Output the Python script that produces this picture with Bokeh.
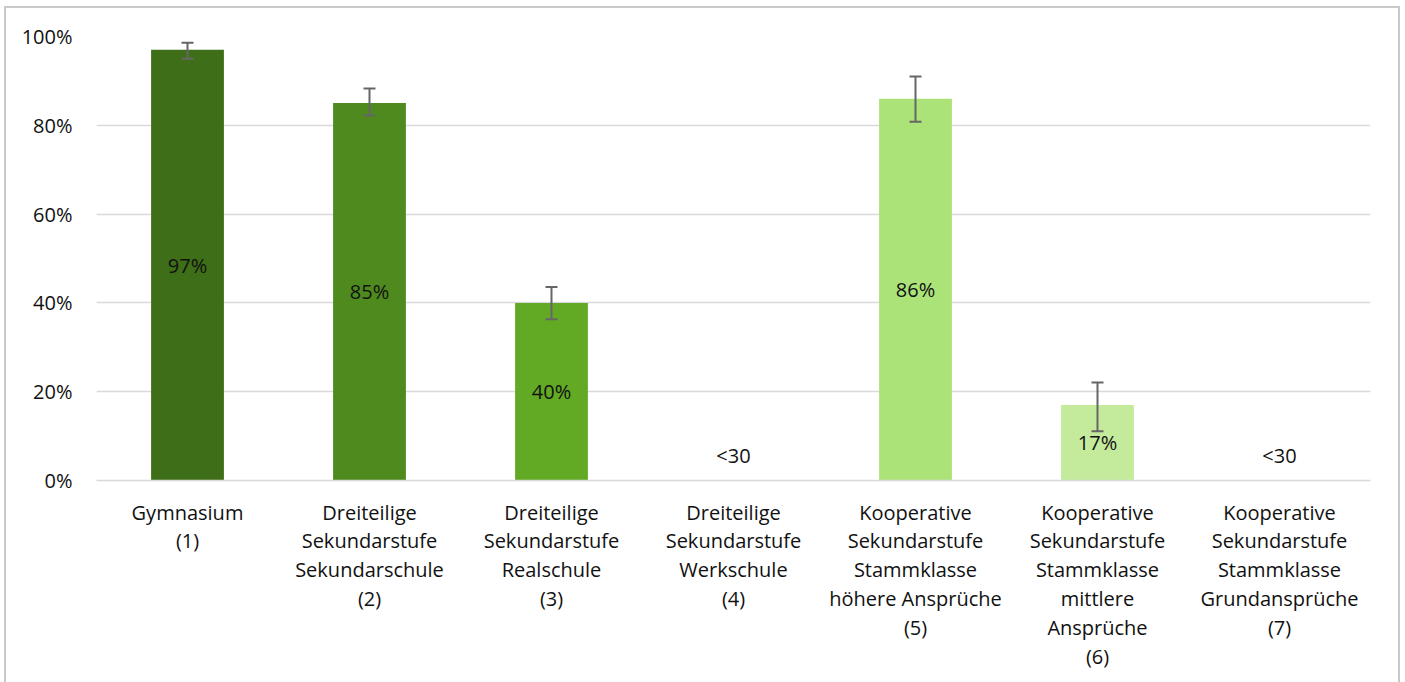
from bokeh.plotting import figure
from bokeh.models import ColumnDataSource, FactorRange, Range1d, Whisker, FixedTicker, CustomJSTickFormatter
from bokeh.embed import file_html
from bokeh.resources import INLINE
from bokeh.core.properties import value

categories = [
    "Gymnasium\n(1)",
    "Dreiteilige\nSekundarstufe\nSekundarschule\n(2)",
    "Dreiteilige\nSekundarstufe\nRealschule\n(3)",
    "Dreiteilige\nSekundarstufe\nWerkschule\n(4)",
    "Kooperative\nSekundarstufe\nStammklasse\nhöhere Ansprüche\n(5)",
    "Kooperative\nSekundarstufe\nStammklasse\nmittlere\nAnsprüche\n(6)",
    "Kooperative\nSekundarstufe\nStammklasse\nGrundansprüche\n(7)",
]
values = [97, 85, 40, 0, 86, 17, 0]
err_low = [95.0, 82.2, 36.3, None, 80.8, 11.1, None]
err_high = [98.6, 88.3, 43.6, None, 91.0, 22.1, None]
labels = ["97%", "85%", "40%", "<30", "86%", "17%", "<30"]
colors = ["#3f6e19", "#4e8a1e", "#62aa24", "#ffffff", "#abe378", "#c4eb9c", "#ffffff"]
yticks = [0, 20, 40, 60, 80, 100]

FONT = "Open Sans"
FS = "20px"

p = figure(x_range=FactorRange(*categories, range_padding=0),
           y_range=Range1d(0, 100),
           width=1396, height=676,
           output_backend="svg", toolbar_location=None,
           min_border_left=90, min_border_right=32,
           min_border_top=28, min_border_bottom=204)
p.margin = (6, 0, 0, 4)
p.styles = {"border-top": "2px solid #c9c9c9",
            "border-left": "2px solid #c9c9c9",
            "border-right": "2px solid #c9c9c9"}

# bars
bar_idx = [i for i, v in enumerate(values) if v > 0]
src = ColumnDataSource(dict(
    x=[categories[i] for i in bar_idx],
    top=[values[i] for i in bar_idx],
    color=[colors[i] for i in bar_idx],
))
p.vbar(x="x", top="top", width=0.4, fill_color="color", line_color=None, source=src)

# error bars
err_idx = [i for i in range(len(values)) if err_low[i] is not None]
esrc = ColumnDataSource(dict(
    x=[categories[i] for i in err_idx],
    lower=[err_low[i] for i in err_idx],
    upper=[err_high[i] for i in err_idx],
))
w = Whisker(base="x", lower="lower", upper="upper", source=esrc,
            line_color="#666666", line_width=2, level="overlay")
for h in (w.upper_head, w.lower_head):
    h.size = 12
    h.line_color = "#666666"
    h.line_width = 2
p.add_layout(w)

# value labels
ly = [v / 2 if v > 0 else 5.6 for v in values]
lsrc = ColumnDataSource(dict(x=categories, y=ly, t=labels))
p.text(x="x", y="y", text="t", source=lsrc, text_align="center", text_baseline="middle",
       text_font=value(FONT), text_font_size=FS, text_color="#111111")

# axes / grid
p.yaxis.ticker = FixedTicker(ticks=yticks)
p.yaxis.formatter = CustomJSTickFormatter(code="return tick + '%';")
p.yaxis.axis_line_color = None
p.yaxis.major_tick_line_color = None
p.yaxis.minor_tick_line_color = None
p.yaxis.major_label_standoff = 18
p.yaxis.major_label_text_font = FONT
p.yaxis.major_label_text_font_size = FS
p.yaxis.major_label_text_color = "#111111"

p.xaxis.axis_line_color = "#d9d9d9"
p.xaxis.axis_line_width = 1.5
p.xaxis.major_tick_line_color = None
p.xaxis.minor_tick_line_color = None
p.xaxis.major_label_standoff = 12
p.xaxis.major_label_text_font = FONT
p.xaxis.major_label_text_font_size = FS
p.xaxis.major_label_text_color = "#111111"
p.xaxis.major_label_text_line_height = 1.07
p.xaxis.major_label_orientation = "horizontal"

p.xgrid.grid_line_color = None
p.ygrid.grid_line_color = "#d9d9d9"
p.ygrid.grid_line_width = 1.5
p.outline_line_color = None

open("out.html", "w").write(file_html(p, INLINE))
